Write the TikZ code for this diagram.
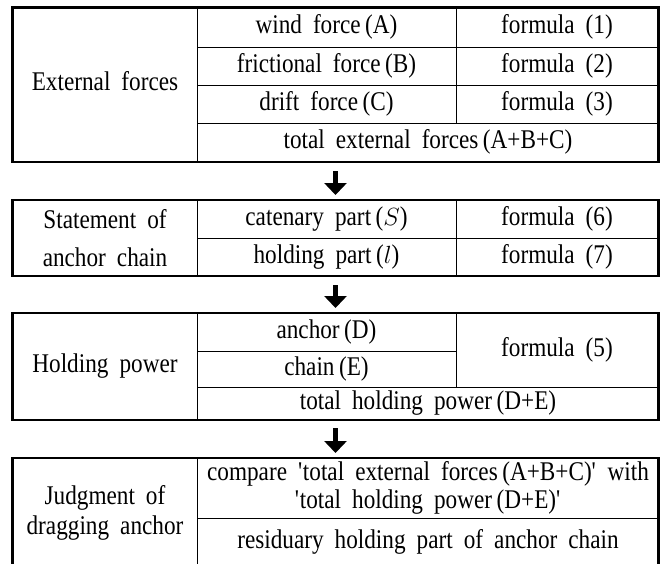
\documentclass[tikz,border=0pt]{standalone}
\usepackage{fontspec}
\setmainfont{Liberation Serif}[FakeStretch=0.86, WordSpace=1.9]
\usetikzlibrary{arrows.meta,positioning}

\tikzset{
  frame/.style={draw, line width=2.6pt, inner sep=0pt, outer sep=0pt, minimum width=646pt},
  cell/.style={line width=0.9pt},
  txt/.style={font=\fontsize{27}{38}\selectfont, align=center, inner sep=0pt, text height=18pt, text depth=6pt},
  bigarrow/.style={line width=5pt, -{Triangle[width=22pt,length=12pt]}}
}

\begin{document}
\begin{tikzpicture}[x=1pt,y=-1pt]
    \useasboundingbox (0,0) rectangle (666,563);
    \clip (0,0) rectangle (666,563);
    %frames
    \node[frame, minimum height=154.5pt] (ext) at (335.5,84.75) {};
    \node[frame, minimum height=76pt, below=38pt of ext] (stmt) {};
    \node[frame, minimum height=107pt, below=37pt of stmt] (hold) {};
    \node[frame, minimum height=109pt, below=38pt of hold] (judge) {};
    %cells
    \draw[cell] (197,7.5) -- (197,162) (456,7.5) -- (456,123)
      (197,47) -- (658.5,47) (197,85) -- (658.5,85) (197,123) -- (658.5,123);
    \draw[cell] (197,200) -- (197,276) (456,200) -- (456,276) (197,238) -- (658.5,238);
    \draw[cell] (197,313) -- (197,420) (456,313) -- (456,387)
      (197,351) -- (456,351) (197,387) -- (658.5,387);
    \draw[cell] (197,458) -- (197,567) (197,518) -- (658.5,518);
    %texts
    \node[txt] (extlbl) at (105,84.75) {External forces};
    \node[txt] (wind) at (326.5,27) {wind force\,(A)};
    \node[txt] (f1) at (557,27) {formula (1)};
    \node[txt] (fric) at (326.5,66) {frictional force\,(B)};
    \node[txt] (f2) at (557,66) {formula (2)};
    \node[txt] (drift) at (326.5,104) {drift force\,(C)};
    \node[txt] (f3) at (557,104) {formula (3)};
    \node[txt] (totext) at (428,142.5) {total external forces\,(A+B+C)};
    \node[txt, text height=, text depth=] (stmtlbl) at (105,238) {Statement of\\anchor chain};
    \node[txt] (cat) at (326.5,219) {catenary part\,($S$)};
    \node[txt] (f6) at (557,219) {formula (6)};
    \node[txt] (hpart) at (326.5,257) {holding part\,($l$)};
    \node[txt] (f7) at (557,257) {formula (7)};
    \node[txt] (holdlbl) at (105,366.5) {Holding power};
    \node[txt] (anc) at (326.5,332) {anchor\,(D)};
    \node[txt] (chn) at (326.5,369) {chain\,(E)};
    \node[txt] (f5) at (557,350) {formula (5)};
    \node[txt] (tothold) at (428,403.5) {total holding power\,(D+E)};
    \node[txt, text height=, text depth=, font=\fontsize{27}{30}\selectfont] (judgelbl) at (105,512.5) {Judgment of\\dragging anchor};
    \node[txt, text height=, text depth=, font=\fontsize{27}{28}\selectfont] (cmp) at (428,488)
      {compare \textquotesingle total external forces\,(A+B+C)\textquotesingle{} with\\\textquotesingle total holding power\,(D+E)\textquotesingle};
    \node[txt] (resid) at (428,542.5) {residuary holding part of anchor chain};
    %arrows
    \draw[bigarrow] ([yshift=-9pt]ext.south) -- ([yshift=5pt]stmt.north);
    \draw[bigarrow] ([yshift=-9pt]stmt.south) -- ([yshift=5pt]hold.north);
    \draw[bigarrow] ([yshift=-8pt]hold.south) -- ([yshift=5pt]judge.north);
\end{tikzpicture}
\end{document}
